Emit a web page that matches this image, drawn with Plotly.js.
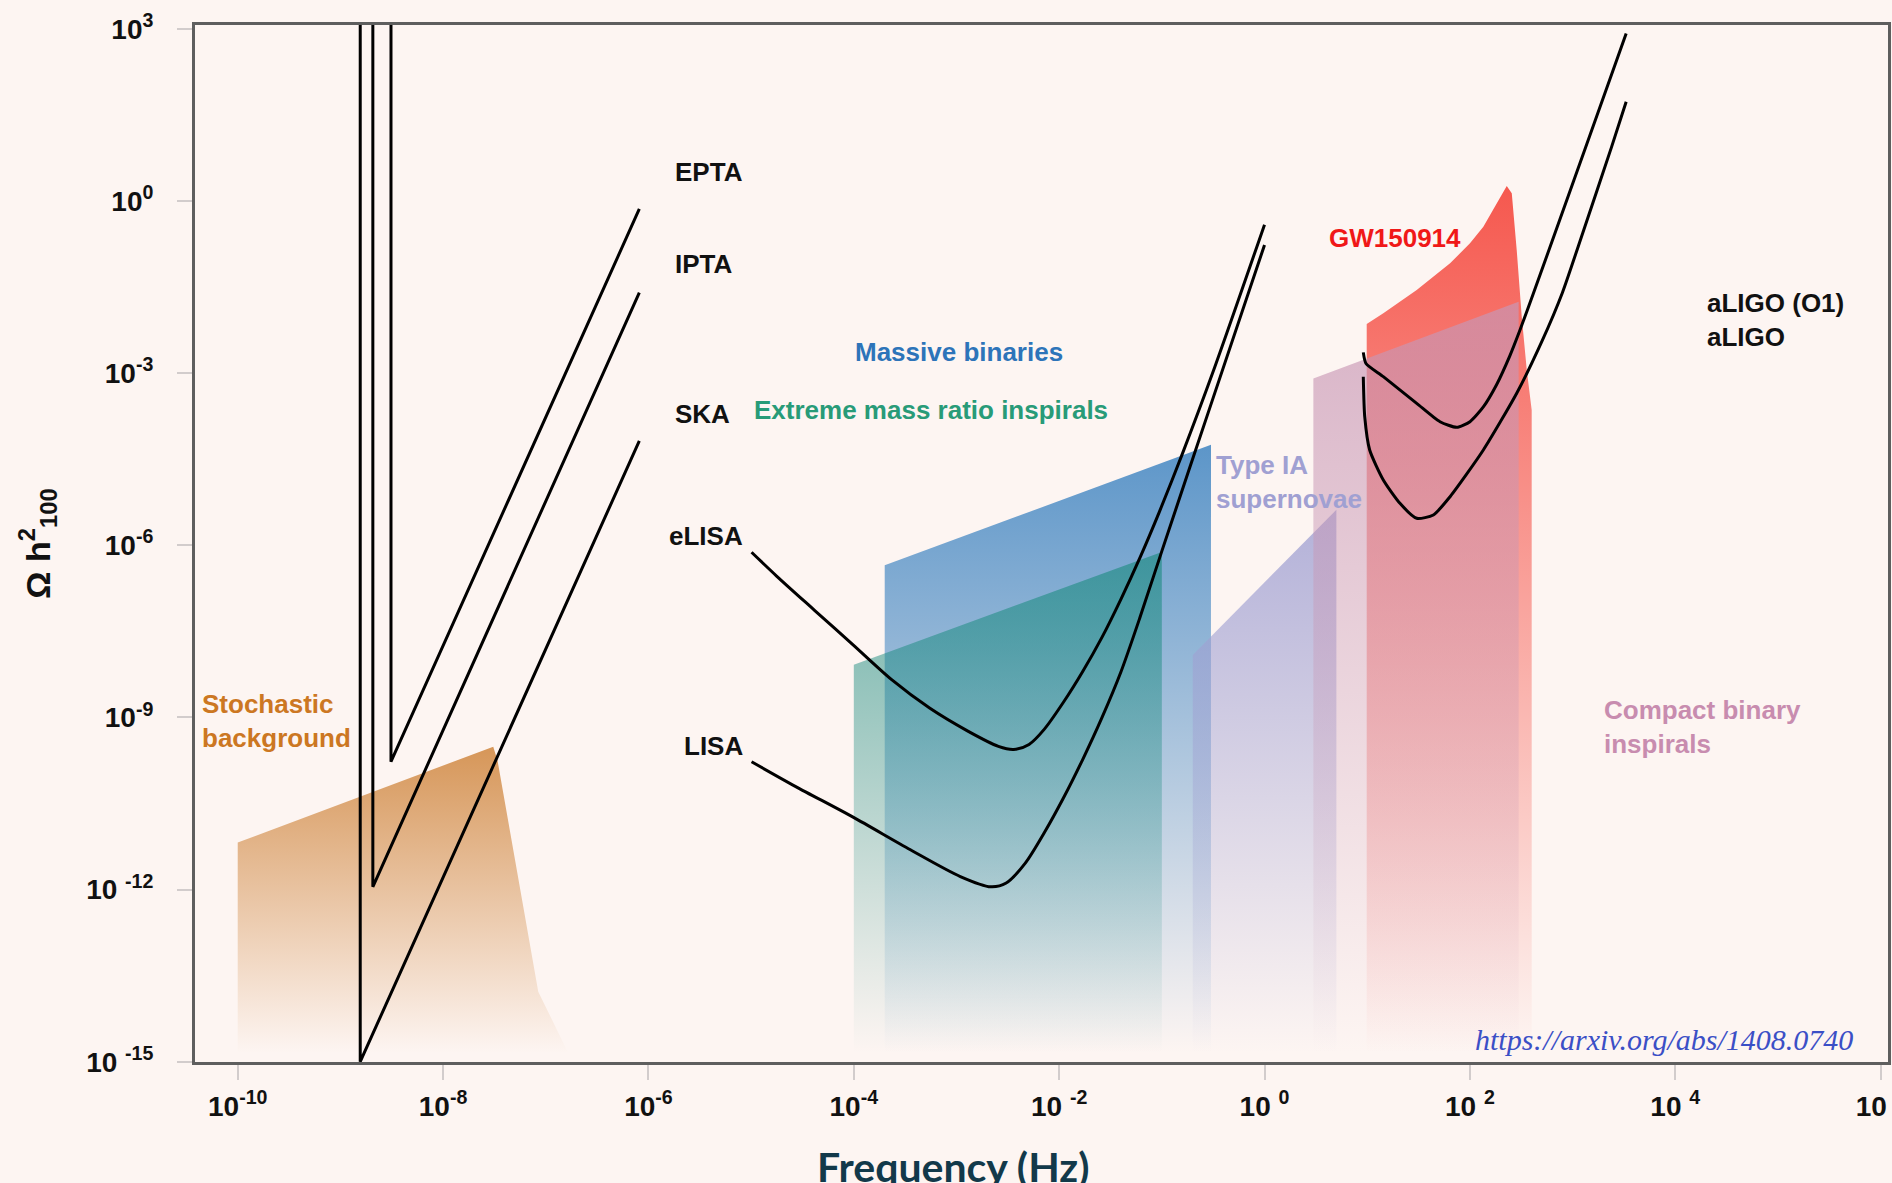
<!DOCTYPE html>
<html>
<head>
<meta charset="utf-8">
<script src="https://cdn.plot.ly/plotly-3.0.1.min.js"></script>
<style>
  html, body { margin: 0; padding: 0; background: #fdf5f2; }
  #chart { width: 1892px; height: 1183px; }
</style>
</head>
<body>
<div id="chart"></div>
<script>
// ---------- data (frequency in Hz, energy density Omega h^2) ----------
// Pulsar timing arrays
const eptaF = [3.11e-9, 3.11e-9, 8.15e-7];
const eptaOmega = [1e4, 1.70e-10, 0.730];
const iptaF = [2.07e-9, 2.07e-9, 8.15e-7];
const iptaOmega = [1e4, 1.12e-12, 2.54e-2];
const skaF = [1.56e-9, 1.56e-9, 8.15e-7];
const skaOmega = [1e4, 1.0e-15, 6.61e-5];

// Space interferometers
const elisaF = [1.01e-5, 1.77e-5, 4.17e-5, 9.84e-5, 2.32e-4, 5.47e-4, 1.29e-3, 2.56e-3, 3.61e-3, 5.09e-3,
                7.18e-3, 1.10e-2, 1.69e-2, 2.61e-2, 4.00e-2, 6.14e-2, 9.44e-2, 0.158, 0.316, 1.0];
const elisaOmega = [7.59e-7, 2.92e-7, 7.31e-8, 1.84e-8, 4.60e-9, 1.46e-9, 5.79e-10, 3.14e-10, 2.77e-10, 3.39e-10,
                    6.27e-10, 1.84e-9, 6.27e-9, 2.49e-8, 1.16e-7, 6.17e-7, 3.80e-6, 3.89e-5, 1.07e-3, 0.389];
const lisaF = [1.01e-5, 2.72e-5, 9.84e-5, 3.56e-4, 1.09e-3, 2.16e-3, 3.05e-3, 4.68e-3, 7.18e-3,
               1.10e-2, 1.69e-2, 2.61e-2, 4.00e-2, 6.14e-2, 0.100, 0.316, 1.0];
const lisaOmega = [1.69e-10, 6.25e-11, 1.83e-11, 4.94e-12, 1.69e-12, 1.12e-12, 1.30e-12, 2.89e-12, 9.86e-12,
                   3.94e-11, 1.83e-10, 9.93e-10, 6.27e-9, 5.62e-8, 7.94e-7, 3.72e-4, 0.172];

// Ground interferometers
const ligoO1F = [9.16, 9.73, 14.35, 30.34, 51.17, 74.47, 100.2, 135.2, 182.4, 245.5, 307.6, 415.0, 755.1, 1374, 3327];
const ligoO1Omega = [2.31e-3, 1.48e-3, 8.71e-4, 2.99e-4, 1.43e-4, 1.14e-4, 1.43e-4, 2.59e-4, 6.37e-4, 2.03e-3,
                     5.66e-3, 2.45e-2, 0.490, 9.77, 831.8];
const ligoF = [9.16, 9.46, 10.57, 14.35, 20.84, 30.34, 44.06, 64.12, 135.2, 285.8, 501.2, 794.3, 1259, 2404, 3327];
const ligoOmega = [8.71e-4, 1.75e-4, 4.59e-5, 1.38e-5, 5.40e-6, 2.96e-6, 3.38e-6, 7.05e-6, 4.59e-5, 4.47e-4,
                   3.55e-3, 2.51e-2, 0.282, 8.91, 54.08];

// Source regions
const stochF = [1e-10, 1e-10, 3.08e-8, 3.39e-8, 8.45e-8, 1.66e-7];
const stochOmega = [1.41e-15, 6.61e-12, 3.09e-10, 1.78e-10, 1.66e-14, 1.41e-15];
const massiveF = [2.0e-4, 2.0e-4, 0.301, 0.301];
const massiveOmega = [1.41e-15, 4.49e-7, 5.65e-5, 1.41e-15];
const emriF = [1e-4, 1e-4, 0.1, 0.1];
const emriOmega = [1.41e-15, 8.32e-9, 7.67e-7, 1.41e-15];
const snF = [0.20, 0.20, 5.01, 5.01];
const snOmega = [1.41e-15, 1.23e-8, 4.17e-6, 1.41e-15];
const gwF = [9.89, 9.89, 14.35, 30.34, 64.12, 100.2, 135.2, 182.4, 228.6, 255.9, 285.8, 319.9, 358.1, 399.9, 399.9];
const gwOmega = [1.41e-15, 7.21e-3, 1.11e-2, 2.82e-2, 8.24e-2, 0.184, 0.358, 0.916, 1.83, 1.37, 0.141,
                 9.66e-3, 1.14e-3, 2.29e-4, 1.41e-15];
const compactF = [2.99, 2.99, 298.5, 298.5];
const compactOmega = [1.41e-15, 8.13e-4, 1.77e-2, 1.41e-15];

// Ticks
const xTickVals = [1e-10, 1e-8, 1e-6, 1e-4, 1e-2, 1, 1e2, 1e4, 1e6];
const xTickText = ['10<sup>-10</sup>', '10<sup>-8</sup>', '10<sup>-6</sup>', '10<sup>-4</sup>', '10 <sup>-2</sup>',
                   '10 <sup>0</sup>', '10 <sup>2</sup>', '10 <sup>4</sup>', '10 <sup>6</sup>'];
const yTickVals = [1e3, 1, 1e-3, 1e-6, 1e-9, 1e-12, 1e-15];
const yTickText = ['10<sup>3</sup>', '10<sup>0</sup>', '10<sup>-3</sup>', '10<sup>-6</sup>', '10<sup>-9</sup>',
                   '10 <sup>-12</sup>', '10 <sup>-15</sup>'];

// ---------- styling ----------
const BG = '#fdf5f2';
const SANS = 'Liberation Sans, Arial, Helvetica, sans-serif';

function region(f, om, rgb, aTop) {
  return {
    type: 'scatter', mode: 'lines', x: f, y: om, fill: 'toself',
    line: {width: 0, color: 'rgba(0,0,0,0)'},
    fillgradient: {type: 'vertical', colorscale: [[0, 'rgba(' + rgb + ',0)'], [1, 'rgba(' + rgb + ',' + aTop + ')']]},
    hoverinfo: 'skip', showlegend: false
  };
}
function curve(f, om, smooth) {
  return {
    type: 'scatter', mode: 'lines', x: f, y: om,
    line: {color: '#000', width: 3, shape: smooth ? 'spline' : 'linear', smoothing: smooth || 0},
    hoverinfo: 'skip', showlegend: false
  };
}

const traces = [
  region(stochF, stochOmega, '212,145,80', 0.95),
  region(massiveF, massiveOmega, '66,134,194', 0.86),
  region(emriF, emriOmega, '25,138,125', 0.62),
  region(snF, snOmega, '160,160,210', 0.8),
  region(gwF, gwOmega, '245,80,70', 0.95),
  region(compactF, compactOmega, '200,150,180', 0.7),
  curve(eptaF, eptaOmega),
  curve(iptaF, iptaOmega),
  curve(skaF, skaOmega),
  curve(elisaF, elisaOmega, 0.8),
  curve(lisaF, lisaOmega, 0.8),
  curve(ligoO1F, ligoO1Omega, 0.6),
  curve(ligoF, ligoOmega, 0.6)
];

function label(text, x, y, color) {
  return {
    xref: 'x', yref: 'y', x: x, y: y, xanchor: 'left', yanchor: 'middle',
    text: '<b>' + text + '</b>', showarrow: false, align: 'left',
    font: {family: SANS, size: 26, color: color}
  };
}

const annotations = [
  label('EPTA', -5.758, 0.499, '#111'),
  label('IPTA', -5.758, -1.100, '#111'),
  label('SKA', -5.758, -3.709, '#111'),
  label('eLISA', -5.817, -5.832, '#111'),
  label('LISA', -5.676, -9.493, '#111'),
  label('Massive binaries', -4.007, -2.636, '#2d74b9'),
  label('Extreme mass ratio inspirals', -4.994, -3.645, '#289b78'),
  label('Type IA<br>supernovae', -0.494, -4.896, '#a0a0d2'),
  label('GW150914', 0.612, -0.638, '#f01818'),
  label('aLIGO (O1)<br>aLIGO', 4.289, -2.079, '#111'),
  label('Compact binary<br>inspirals', 3.291, -9.167, '#c88caf'),
  label('Stochastic<br>background', -10.364, -9.062, '#cc7722'),
  {
    xref: 'x', yref: 'y', x: 5.75, y: -14.62, xanchor: 'right', yanchor: 'middle',
    text: '<i>https://arxiv.org/abs/1408.0740</i>', showarrow: false,
    font: {family: 'Liberation Serif, DejaVu Serif, serif', size: 30, color: '#3b4fc6'}
  },
  {
    xref: 'paper', yref: 'paper', x: 0.4477, y: -0.1003, xanchor: 'center', yanchor: 'middle',
    text: 'Frequency (Hz)', showarrow: false,
    font: {family: 'Lato, Noto Sans, sans-serif', size: 41, color: '#12394a', weight: 'bold'}
  }
];

const axisCommon = {
  type: 'log', tickmode: 'array', ticks: 'outside', ticklen: 15, tickwidth: 2, tickcolor: '#d2cccc',
  showline: true, linecolor: '#5e5e5e', linewidth: 3, mirror: true,
  showgrid: false, zeroline: false, ticklabeloverflow: 'allow',
  tickfont: {family: SANS, size: 28, color: '#111', weight: 'bold'}
};

const layout = {
  width: 1892, height: 1183,
  paper_bgcolor: BG, plot_bgcolor: BG,
  margin: {l: 195, r: 4, t: 25, b: 121, pad: 0},
  showlegend: false,
  font: {family: SANS},
  xaxis: Object.assign({}, axisCommon, {
    range: [-10.416, 6.072], tickvals: xTickVals, ticktext: xTickText, ticklabelstandoff: 2
  }),
  yaxis: Object.assign({}, axisCommon, {
    range: [-15.005, 3.0697], tickvals: yTickVals, ticktext: yTickText, ticklabelstandoff: 18,
    title: {text: 'Ω h<sup>2</sup><sub>100</sub>', standoff: 26,
            font: {family: SANS, size: 34, color: '#111', weight: 'bold'}}
  }),
  annotations: annotations
};

Plotly.newPlot('chart', traces, layout, {displayModeBar: false, staticPlot: true});
</script>
</body>
</html>
